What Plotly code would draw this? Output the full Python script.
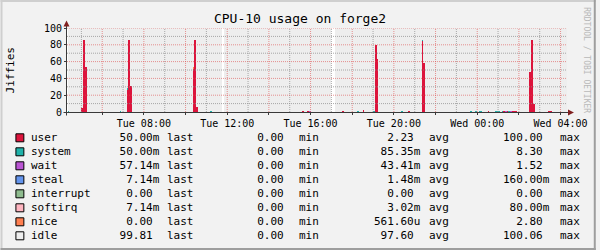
import plotly.graph_objects as go
import pandas as pd

# ------------------------------------------------------------------ data
START = "2024-01-02 04:20"          # first 5-minute sample (a Tuesday)
N_STEPS = 288
STEP_MS = 5 * 60 * 1000
X_RANGE = ["2024-01-02 04:18:34.286", "2024-01-03 04:18:34.286"]

# one line = one hour of 5-minute samples
user = [
    0, 0, 0, 0, 0, 0, 0, 0, 4.8, 86, 54, 0,
    0, 0, 0, 0, 0, 0, 0, 0, 0, 0, 0, 0,
    0, 0, 0, 0, 0, 0, 0, 0, 0, 0, 26.5, 86,
    31, 0, 0, 0, 0, 0, 0, 0, 0, 0, 0, 0,
    0, 0, 0, 0, 0, 0, 0, 0, 0, 0, 0, 0,
    0, 0, 0, 0, 0, 0, 0, 0, 0, 0, 0, 0,
    51.5, 86, 6.3, 0, 0, 0, 0, 0, 0, 0, 0, 0,
    0, 0, 0, 0, 0, 0, 0, 0, 0, 0, 0, 0,
    0, 0, 0, 0, 0, 0, 0, 0, 0, 0, 0, 0,
    0, 0, 0, 0, 0, 0, 0, 0, 0, 0, 0, 0,
    0, 0, 0, 0, 0, 0, 0, 0, 0, 0, 0, 0,
    0, 0, 0, 1, 0, 0, 0.8, 0, 0, 0, 0, 0,
    0, 0, 0, 0, 0, 0, 0, 0, 0, 0, 0, 0,
    0, 0, 1.2, 0, 0, 0, 0, 0, 0, 0, 0, 0,
    0, 0, 2.4, 0, 0, 0, 0, 0, 0, 80, 63.5, 0,
    0, 0, 0, 0, 0, 0, 0, 0, 0, 0, 0, 0,
    0, 0, 0, 0, 1, 0, 0, 0, 0, 0, 0, 0,
    84.5, 58, 0, 0, 0, 0, 0, 0, 0, 0, 0, 0,
    0, 0, 0, 0, 0, 0, 0, 0, 0, 0, 0, 0,
    0, 0, 0, 0, 0, 0, 0, 0, 0, 0, 0, 0,
    0, 0, 1, 0, 0, 0, 0, 0, 0, 0, 0, 1,
    0, 1, 0, 0, 1, 1, 1.2, 0, 0, 0, 0, 0,
    0, 0, 48, 86, 10, 0, 0, 0, 0, 0, 0, 0,
    0, 1.2, 1.2, 0, 0, 0, 0, 0, 0, 0, 0, 0,
]

system = [
    1.2, 0, 0, 0, 0, 0, 0, 0, 0, 0, 0, 0,
    0, 0, 0, 0, 0, 0, 0, 0, 0, 0, 0, 0,
    0, 0, 0, 0, 0, 0, 1.2, 0, 0, 0, 1.5, 0,
    0, 0, 0, 0, 0, 0, 0, 0, 0, 0, 0, 0,
    0, 0, 0, 0, 0, 0, 0, 0, 0, 0, 0, 0,
    0, 0, 0, 0, 0, 0, 0, 0, 0, 0, 0, 0,
    0, 0, 0, 0, 0, 0, 0, 0, 0, 0, 1.5, 0,
    0, 0, 0, 0, 0, 0, 0, 0, 0, 0, 0, 0,
    0, 0, 0, 0, 0, 0, 0, 0, 0, 0, 0, 0,
    0, 0, 0, 0, 0, 0, 0, 0, 0, 0, 0, 0,
    0, 0, 0, 0, 0, 0, 0, 0, 0, 0, 0, 0,
    0, 0, 0, 0, 0, 0, 0, 0, 0, 0, 0, 0,
    0, 0, 0, 0, 0, 0, 0, 0, 0, 0, 0, 0,
    0, 0, 0, 0, 0, 0, 0, 0, 0, 0, 0, 1,
    0, 0, 0, 0, 0, 0, 0, 0, 1, 0, 0, 0,
    0, 0, 0, 0, 0, 0, 0, 0, 0, 0, 0, 0,
    1, 0, 0, 0, 0, 0, 0, 0, 0, 0, 0, 0,
    1.5, 0, 0, 0, 0, 0, 0, 0, 0, 0, 0, 0,
    0, 0, 0, 0, 0, 0, 0, 0, 0, 0, 0, 0,
    0, 0, 0, 0, 1, 0, 0, 1, 0, 1, 1, 0,
    0, 0, 0, 0, 0, 0, 1.2, 1.2, 1, 0, 1.2, 0,
    0, 0, 1, 0, 0, 0, 0, 0, 0, 0, 0, 0,
    0, 0, 0, 0, 0, 0, 0, 0, 0, 0, 0, 0,
    0, 0, 0, 0, 0, 0, 0, 0, 0, 0, 0, 0,
]

wait = [
    0, 0, 0, 0, 0, 0, 0, 0, 0, 0, 0, 0,
    0, 0, 0, 0, 0, 0, 0, 0, 0, 0, 0, 0,
    0, 0, 0, 0, 0, 0, 0, 0, 0, 0, 0, 0,
    0, 0, 0, 0, 0, 0, 0, 0, 0, 0, 0, 0,
    0, 0, 0, 0, 0, 0, 0, 0, 0, 0, 0, 0,
    0, 0, 0, 0, 0, 0, 0, 0, 0, 0, 0, 0,
    0, 0, 0, 0, 0, 0, 0, 0, 0, 0, 0, 0,
    0, 0, 0, 0, 0, 0, 0, 0, 0, 0, 0, 0,
    0, 0, 0, 0, 0, 0, 0, 0, 0, 0, 0, 0,
    0, 0, 0, 0, 0, 0, 0, 0, 0, 0, 0, 0,
    0, 0, 0, 0, 0, 0, 0, 0, 0, 0, 0, 0,
    0, 0, 0, 0, 0, 0, 0.6, 1.2, 0, 0, 0, 0,
    0, 0, 0, 0, 0, 0, 0, 0, 0, 0, 0, 0,
    0, 0, 0, 0, 0, 0, 0, 0, 0, 0, 0, 0,
    0, 0, 0, 0, 0, 0, 0, 0, 0, 0, 0, 0,
    0, 0, 0, 0, 0, 0, 0, 0, 0, 0, 0, 0,
    0, 0, 0, 0, 0, 0, 0, 0, 0, 0, 0, 0,
    0, 0, 0, 0, 0, 0, 0, 0, 0, 0, 0, 0,
    0, 0, 0, 0, 0, 0, 0, 0, 0, 0, 0, 0,
    0, 0, 0, 0, 0, 0, 0, 0, 0, 0, 0, 0,
    0, 0, 0, 0, 0, 0, 0, 0, 0, 0, 0, 0,
    1, 0, 0, 1.2, 0, 0, 0, 0, 0, 0, 0, 0,
    0, 0, 0, 0, 0, 0, 0, 0, 0, 0, 0, 0,
    0, 0, 0, 0, 0, 0, 0, 0, 0, 0, 0, 0,
]

steal = [0.0] * N_STEPS       # never above ~0.16 -> invisible at this scale
interrupt = [0.0] * N_STEPS   # all 0.00
softirq = [0.0] * N_STEPS     # never above ~0.08

nice = [
    0, 0, 0, 0, 0, 0, 0, 0, 0, 0, 0, 0,
    0, 0, 0, 0, 0, 0, 0, 0, 0, 0, 0, 0,
    0, 0, 0, 0, 0, 0, 0, 0, 0, 0, 0, 0,
    0, 0, 0, 0, 0, 0, 0, 0, 0, 0, 0, 0,
    0, 0, 0, 0, 0, 0, 0, 0, 0, 0, 0, 0,
    0, 0, 0, 0, 0, 0, 0, 0, 0, 0, 0, 0,
    1.5, 0, 0, 0, 0, 0, 0, 0, 0, 0, 0, 0,
    0, 0, 0, 0, 0, 0, 0, 0, 0, 0, 0, 0,
    0, 0, 0, 0, 0, 0, 0, 0, 0, 0, 0, 0,
    0, 0, 0, 0, 0, 0, 0, 0, 0, 0, 0, 0,
    0, 0, 0, 0, 0, 0, 0, 0, 0, 0, 0, 0,
    0, 0, 0, 0, 0, 0, 0, 0, 0, 0, 0, 0,
    0, 0, 0, 0, 0, 0, 0, 0, 0, 0, 0, 0,
    0, 0, 0, 0, 0, 0, 0, 0, 0, 0, 0, 0,
    0, 0, 0, 0, 0, 0, 0, 0, 0, 0, 0, 0,
    0, 0, 0, 0, 0, 0, 0, 0, 0, 0, 0, 0,
    0, 0, 0, 0, 0, 0, 0, 0, 0, 0, 0, 0,
    0, 0, 0, 0, 0, 0, 0, 0, 0, 0, 0, 0,
    0, 0, 0, 0, 0, 0, 0, 0, 0, 0, 0, 0,
    0, 0, 0, 0, 0, 0, 0, 0, 0, 0, 0, 0,
    0, 0, 0, 0, 0, 0, 0, 0, 0, 0, 0, 0,
    0, 0, 0, 0, 0, 0, 0, 0, 0, 0, 0, 0,
    0, 0, 0, 0, 0, 0, 0, 0, 0, 0, 0, 0,
    0, 0, 0, 0, 0, 0, 0, 0, 0, 0, 0, 0,
]

I = 99.8   # the usual idle reading
idle = [
    98.6, I, I, I, I, I, I, I, 95.0, 13.8, 45.8, I,
    I, I, I, I, I, I, I, I, I, I, I, I,
    I, I, I, I, I, I, 98.6, I, I, I, 71.8, 13.8,
    68.8, I, I, I, I, I, I, I, I, I, I, I,
    I, I, I, I, I, I, I, I, I, I, I, I,
    I, I, I, I, I, I, I, I, I, I, I, I,
    46.8, 13.8, 93.5, I, I, I, I, I, I, I, 98.3, I,
    I, I, I, I, I, None, I, I, I, I, I, I,
    I, I, I, I, I, I, I, I, I, I, I, I,
    I, I, I, I, I, I, I, I, I, I, I, I,
    I, I, I, I, I, I, I, I, I, I, I, I,
    I, I, I, 98.8, I, I, 98.4, 98.6, I, I, I, I,
    I, I, I, I, I, I, I, I, None, None, I, I,
    I, I, 98.6, I, I, I, I, I, I, I, I, 98.8,
    I, I, 97.4, I, I, I, I, I, 98.8, 19.8, 36.3, I,
    I, I, I, I, I, I, I, I, I, I, I, I,
    98.8, I, I, I, 98.8, I, I, I, I, I, I, I,
    13.8, 41.8, I, I, I, I, I, I, I, I, I, I,
    I, I, I, I, I, I, I, I, I, I, I, I,
    I, I, I, I, 98.8, I, I, 98.8, I, 98.8, 98.8, I,
    I, I, 98.8, I, I, I, 98.6, 98.6, 98.8, I, 98.6, 98.8,
    98.8, 98.8, 98.8, 98.6, 98.8, 98.8, 98.6, I, I, I, I, I,
    I, I, 51.8, 13.8, 89.8, I, I, I, I, I, I, I,
    I, 98.6, 98.6, I, I, I, I, I, I, I, I, I,
]

series_names = ["user", "system", "wait", "steal", "interrupt", "softirq", "nice", "idle"]
series_values = [user, system, wait, steal, interrupt, softirq, nice, idle]
series_colors = ["#DC143C", "#20B2AA", "#BA55D3", "#6495ED", "#8FBC8F", "#FFB6C1", "#FF7F50", "#EEEEEE"]

legend_last = ["50.00m", "50.00m", "57.14m", "7.14m", "0.00", "7.14m", "0.00", "99.81"]
legend_min = ["0.00", "0.00", "0.00", "0.00", "0.00", "0.00", "0.00", "0.00"]
legend_avg = ["2.23", "85.35m", "43.41m", "1.48m", "0.00", "3.02m", "561.60u", "97.60"]
legend_max = ["100.00", "8.30", "1.52", "160.00m", "0.00", "80.00m", "2.80", "100.06"]

x_tick_times = ["2024-01-02 06:00", "2024-01-02 08:00", "2024-01-02 10:00", "2024-01-02 12:00",
                "2024-01-02 14:00", "2024-01-02 16:00", "2024-01-02 18:00", "2024-01-02 20:00",
                "2024-01-02 22:00", "2024-01-03 00:00", "2024-01-03 02:00", "2024-01-03 04:00"]
x_tick_text = ["", "Tue 08:00", "", "Tue 12:00", "", "Tue 16:00", "",
               "Tue 20:00", "", "Wed 00:00", "", "Wed 04:00"]
y_tick_vals = [0, 20, 40, 60, 80, 100]
y_tick_text = ["0", "20", "40", "60", "80", "100"]

TITLE = "CPU-10 usage on forge2"
Y_LABEL = "Jiffies"
WATERMARK = "RRDTOOL / TOBI OETIKER"

# ------------------------------------------------------------------ layout constants
MONO = "DejaVu Sans Mono"
FW, FH = 600, 250
PL, PT, PW, PH = 67, 28, 504, 84          # plot area in pixels


def px(x):
    return (x - PL) / PW


def py(y):
    return (PT + PH - y) / PH


def rgba(hexcol, a):
    h = hexcol.lstrip("#")
    return "rgba(%d,%d,%d,%s)" % (int(h[0:2], 16), int(h[2:4], 16), int(h[4:6], 16), a)


times = pd.date_range(START, periods=N_STEPS, freq="5min")

fig = go.Figure()
for name, vals, col in zip(series_names, series_values, series_colors):
    fig.add_bar(x=times, y=vals, name=name, offset=0, width=STEP_MS,
                marker=dict(color=rgba(col, 0.999), line=dict(width=0)),
                hoverinfo="skip", showlegend=False)

shapes = []
# grid drawn over the areas (rrdtool style)
MINOR_GRID = "rgba(143,143,143,0.75)"
MAJOR_GRID = "rgba(222,79,79,0.6)"
hours = pd.date_range("2024-01-02 05:00", "2024-01-03 04:00", freq="1h")
for h in hours:
    major = (h.hour % 2 == 0)
    shapes.append(dict(type="line", xref="x", yref="paper", x0=h, x1=h, y0=0, y1=1,
                       line=dict(color=MAJOR_GRID if major else MINOR_GRID, width=1, dash="1px,1px")))
for v in range(10, 101, 10):
    major = (v % 20 == 0)
    shapes.append(dict(type="line", xref="paper", yref="y", x0=0, x1=1, y0=v, y1=v,
                       line=dict(color=MAJOR_GRID if major else MINOR_GRID, width=1, dash="1px,1px")))

AXIS_COL = "#3A3A3A"
ARROW_COL = "#801F1F"
# axes
shapes.append(dict(type="line", xref="paper", yref="paper", x0=px(63.5), x1=px(573), y0=py(112.5), y1=py(112.5),
                   line=dict(color=AXIS_COL, width=1)))
shapes.append(dict(type="line", xref="paper", yref="paper", x0=px(66.5), x1=px(66.5), y0=py(115.5), y1=py(25),
                   line=dict(color=AXIS_COL, width=1)))
# arrows
shapes.append(dict(type="path", xref="paper", yref="paper",
                   path="M %f,%f L %f,%f L %f,%f Z" % (px(63.5), py(26.5), px(69.5), py(26.5), px(66.5), py(20.5)),
                   fillcolor=ARROW_COL, line=dict(width=0)))
shapes.append(dict(type="path", xref="paper", yref="paper",
                   path="M %f,%f L %f,%f L %f,%f Z" % (px(572), py(109.5), px(572), py(115.5), px(578), py(112.5)),
                   fillcolor=ARROW_COL, line=dict(width=0)))
# image frame (shade A / shade B)
for (x0, y0, x1, y1, c) in [(0, 0, 600, 2, "#CFCFCF"), (0, 0, 2, 250, "#CFCFCF"),
                            (0, 248, 600, 250, "#9E9E9E"), (598, 0, 600, 250, "#9E9E9E")]:
    shapes.append(dict(type="rect", xref="paper", yref="paper", x0=px(x0), x1=px(x1), y0=py(y0), y1=py(y1),
                       fillcolor=c, line=dict(width=0), layer="above"))

annotations = []
NB = "\u00a0"


def field(s):
    if s[-1].isalpha():
        num, suf = s[:-1], s[-1]
    else:
        num, suf = s, NB
    return num.rjust(6, NB) + suf


def text_at(x, y, t, size=11, **kw):
    d = dict(x=px(x), y=py(y), xref="paper", yref="paper", text=t, showarrow=False,
             xanchor="left", yanchor="middle", borderpad=0,
             font=dict(family=MONO, size=size, color="black"))
    d.update(kw)
    annotations.append(d)


ROW_Y0, ROW_DY = 137.8, 14.0
for i, name in enumerate(series_names):
    yc = ROW_Y0 + ROW_DY * i
    shapes.append(dict(type="rect", xref="paper", yref="paper",
                       x0=px(15.5), x1=px(23.5), y0=py(yc - 4), y1=py(yc + 4),
                       fillcolor=series_colors[i], line=dict(color="black", width=1)))
    text_at(30, yc, name)
    text_at(112.8, yc, field(legend_last[i]))
    text_at(166.5, yc, "last")
    text_at(244.5, yc, field(legend_min[i]))
    text_at(299.7, yc, "min")
    text_at(375.4, yc, field(legend_avg[i]))
    text_at(431, yc, "avg")
    text_at(505.5, yc, field(legend_max[i]))
    text_at(563, yc, "max")

# y-axis unit label
annotations.append(dict(x=px(10), y=py(70), xref="paper", yref="paper", text=Y_LABEL, showarrow=False,
                        textangle=-90, xanchor="center", yanchor="middle",
                        font=dict(family=MONO, size=11, color="black")))
# watermark
annotations.append(dict(x=px(591), y=py(60), xref="paper", yref="paper", text=WATERMARK, showarrow=False,
                        textangle=90, xanchor="center", yanchor="middle",
                        font=dict(family=MONO, size=8, color="#B8B8B8")))

fig.update_layout(
    width=FW, height=FH,
    margin=dict(l=PL, r=FW - PL - PW, t=PT, b=FH - PT - PH, pad=0),
    paper_bgcolor="#F2F2F2", plot_bgcolor="#FFFFFF",
    barmode="stack", bargap=0, bargroupgap=0,
    showlegend=False,
    font=dict(family=MONO, size=10, color="black"),
    title=dict(text=TITLE, x=0.5, xref="container", xanchor="center",
               y=1 - 18 / FH, yref="container", yanchor="middle",
               font=dict(family=MONO, size=13, color="black")),
    xaxis=dict(type="date", range=X_RANGE, tickmode="array", tickvals=x_tick_times, ticktext=x_tick_text,
               showgrid=False, zeroline=False, showline=False, ticks="outside", ticklen=2,
               tickcolor=AXIS_COL, tickfont=dict(family=MONO, size=10, color="black"), fixedrange=True),
    yaxis=dict(range=[0, 100], tickmode="array", tickvals=y_tick_vals, ticktext=y_tick_text,
               showgrid=False, zeroline=False, showline=False, ticks="outside", ticklen=2,
               tickcolor=AXIS_COL, tickfont=dict(family=MONO, size=10, color="black"), fixedrange=True),
    shapes=shapes,
    annotations=annotations,
)

fig.write_html("out.html")
